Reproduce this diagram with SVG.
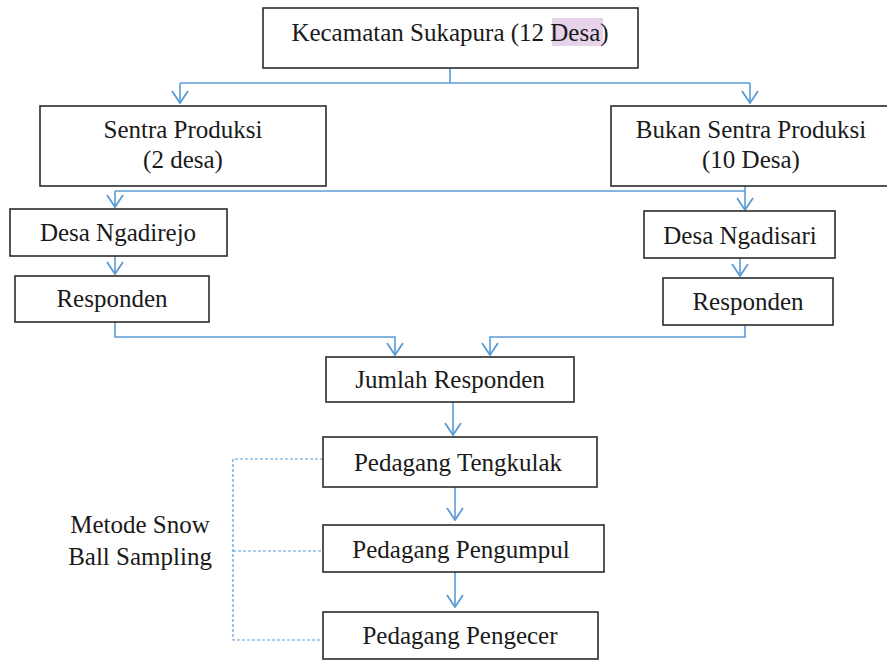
<svg xmlns="http://www.w3.org/2000/svg" width="887" height="661" viewBox="0 0 887 661">
<style>
.box{fill:#fff;stroke:#2b2b2b;stroke-width:1.6}
.t{font-family:'Liberation Serif','Times New Roman',serif;font-size:25px;fill:#1a1a1a;text-anchor:middle}
.c{fill:none;stroke:#5b9bd5;stroke-width:1.6}
.d{fill:none;stroke:#5b9bd5;stroke-width:1.2;stroke-dasharray:3 2}
</style>
<defs>
<marker id="ah" viewBox="0 0 14 18" refX="13" refY="9" markerWidth="14" markerHeight="18" markerUnits="userSpaceOnUse" orient="auto">
<path d="M1,1 L13,9 L1,17" fill="none" stroke="#5b9bd5" stroke-width="1.8"/>
</marker>
</defs>
<rect width="887" height="661" fill="#fff"/>
<g id="connectors">
<path class="c" d="M450,68 V83"/>
<path class="c" d="M180,83 H750"/>
<path class="c" d="M180,83 V103" marker-end="url(#ah)"/>
<path class="c" d="M750,83 V103" marker-end="url(#ah)"/>
<path class="c" d="M115,191 H745"/>
<path class="c" d="M745,186 V191"/>
<path class="c" d="M115,191 V207" marker-end="url(#ah)"/>
<path class="c" d="M745,191 V210" marker-end="url(#ah)"/>
<path class="c" d="M115,256 V274" marker-end="url(#ah)"/>
<path class="c" d="M740,258 V276" marker-end="url(#ah)"/>
<path class="c" d="M115,322 V337 H395 V355" marker-end="url(#ah)"/>
<path class="c" d="M745,325 V337 H490 V355" marker-end="url(#ah)"/>
<path class="c" d="M453,402 V435" marker-end="url(#ah)"/>
<path class="c" d="M455,487 V520" marker-end="url(#ah)"/>
<path class="c" d="M455,572 V607" marker-end="url(#ah)"/>
<path class="d" d="M323,459 H233 V640 H323"/>
<path class="d" d="M233,551 H323"/>
</g>
<g id="kecamatan">
<rect class="box" x="263" y="8" width="375" height="60"/>
<rect x="552" y="18" width="51" height="28" fill="#e6d3ea"/>
<text class="t" x="450" y="41">Kecamatan Sukapura (12 Desa)</text>
</g>
<g id="sentra">
<rect class="box" x="40" y="106" width="286" height="80"/>
<text class="t" x="183" y="138">Sentra Produksi</text>
<text class="t" x="183" y="168">(2 desa)</text>
</g>
<g id="bukan">
<rect class="box" x="611" y="106" width="290" height="80"/>
<text class="t" x="751" y="138">Bukan Sentra Produksi</text>
<text class="t" x="751" y="168">(10 Desa)</text>
</g>
<g id="ngadirejo">
<rect class="box" x="10" y="209" width="217" height="47"/>
<text class="t" x="118" y="241">Desa Ngadirejo</text>
</g>
<g id="ngadisari">
<rect class="box" x="644" y="211" width="191" height="47"/>
<text class="t" x="740" y="244">Desa Ngadisari</text>
</g>
<g id="responden-left">
<rect class="box" x="15" y="276" width="194" height="46"/>
<text class="t" x="112" y="307">Responden</text>
</g>
<g id="responden-right">
<rect class="box" x="663" y="278" width="170" height="47"/>
<text class="t" x="748" y="310">Responden</text>
</g>
<g id="jumlah">
<rect class="box" x="326" y="357" width="248" height="45"/>
<text class="t" x="450" y="388">Jumlah Responden</text>
</g>
<g id="tengkulak">
<rect class="box" x="323" y="437" width="274" height="50"/>
<text class="t" x="458" y="471">Pedagang Tengkulak</text>
</g>
<g id="pengumpul">
<rect class="box" x="323" y="525" width="281" height="47"/>
<text class="t" x="461" y="558">Pedagang Pengumpul</text>
</g>
<g id="pengecer">
<rect class="box" x="323" y="612" width="275" height="47"/>
<text class="t" x="460" y="644">Pedagang Pengecer</text>
</g>
<g id="snowball-label">
<text class="t" x="140" y="533">Metode Snow</text>
<text class="t" x="140" y="565">Ball Sampling</text>
</g>
</svg>
